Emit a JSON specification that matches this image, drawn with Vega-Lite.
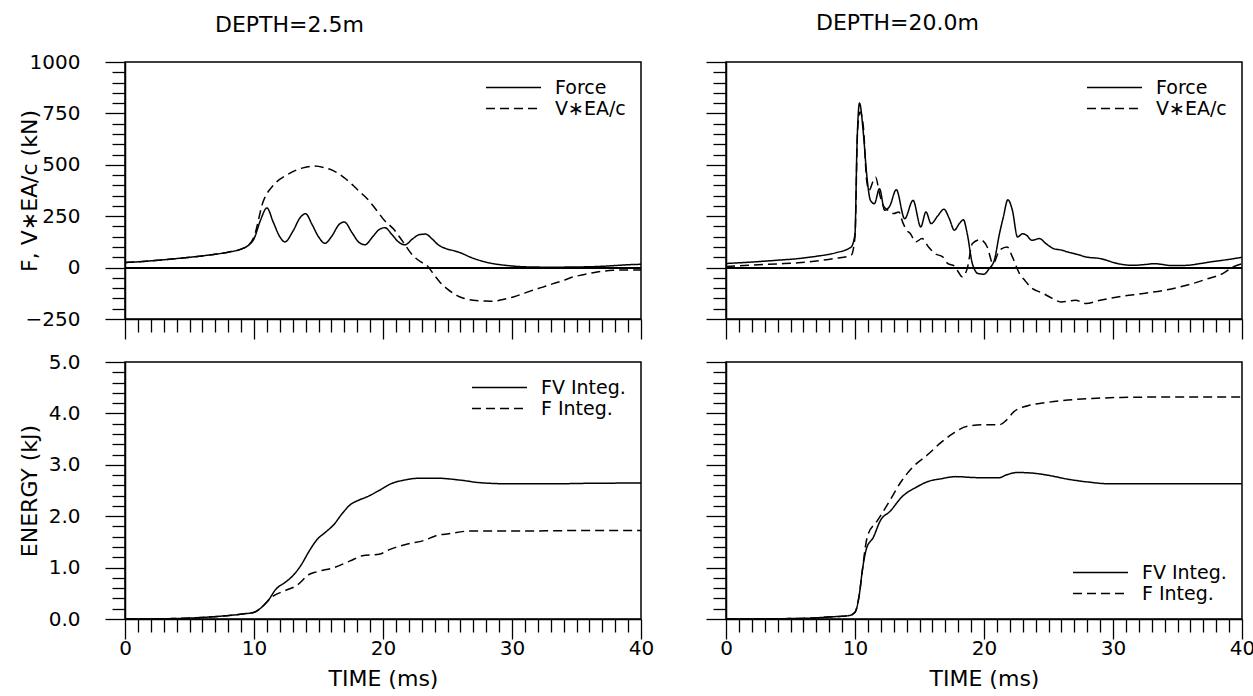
{
  "$schema": "https://vega.github.io/schema/vega-lite/v6.json",
  "padding": {"left": 17, "top": 11, "right": 2, "bottom": 5},
  "config": {
    "font": "DejaVu Sans",
    "view": {"stroke": "black", "strokeWidth": 1.5},
    "axis": {"grid": false, "domainColor": "black", "domainWidth": 1.5, "tickColor": "black", "tickWidth": 1.3, "labelColor": "black", "labelFont": "DejaVu Sans", "labelFontSize": 20, "titleFont": "DejaVu Sans", "titleFontSize": 22, "titleFontWeight": "normal", "titleColor": "black", "labelOverlap": false, "labelFlush": false},
    "legend": {"title": null, "labelFontSize": 19, "labelFont": "DejaVu Sans", "labelColor": "black", "symbolType": "stroke", "symbolSize": 3025, "symbolStrokeWidth": 1.5, "symbolStrokeColor": "black", "clipHeight": 21, "labelOffset": 13, "offset": 15, "padding": 0, "rowPadding": 0},
    "title": {"font": "DejaVu Sans", "fontSize": 22, "fontWeight": "normal", "color": "black", "anchor": "start", "frame": "group", "dx": 90}
  },
  "datasets": {
    "f25": [
      {"t":0,"v":25,"s":"Force"},{"t":1,"v":28,"s":"Force"},{"t":2,"v":33,"s":"Force"},{"t":3,"v":38,"s":"Force"},{"t":4,"v":44,"s":"Force"},{"t":5,"v":50,"s":"Force"},{"t":6,"v":57,"s":"Force"},{"t":7,"v":65,"s":"Force"},{"t":8,"v":75,"s":"Force"},{"t":9,"v":90,"s":"Force"},{"t":9.6,"v":110,"s":"Force"},{"t":10,"v":140,"s":"Force"},{"t":10.5,"v":230,"s":"Force"},{"t":11.0,"v":290,"s":"Force"},{"t":11.5,"v":220,"s":"Force"},{"t":12.0,"v":150,"s":"Force"},{"t":12.4,"v":125,"s":"Force"},{"t":13.0,"v":175,"s":"Force"},{"t":13.6,"v":245,"s":"Force"},{"t":14.0,"v":262,"s":"Force"},{"t":14.5,"v":210,"s":"Force"},{"t":15.0,"v":150,"s":"Force"},{"t":15.5,"v":118,"s":"Force"},{"t":16.0,"v":150,"s":"Force"},{"t":16.6,"v":210,"s":"Force"},{"t":17.0,"v":222,"s":"Force"},{"t":17.6,"v":170,"s":"Force"},{"t":18.1,"v":125,"s":"Force"},{"t":18.6,"v":111,"s":"Force"},{"t":19.2,"v":150,"s":"Force"},{"t":19.7,"v":185,"s":"Force"},{"t":20.15,"v":194,"s":"Force"},{"t":20.7,"v":160,"s":"Force"},{"t":21.2,"v":125,"s":"Force"},{"t":21.7,"v":111,"s":"Force"},{"t":22.3,"v":140,"s":"Force"},{"t":22.8,"v":160,"s":"Force"},{"t":23.3,"v":163,"s":"Force"},{"t":23.8,"v":140,"s":"Force"},{"t":24.3,"v":110,"s":"Force"},{"t":24.9,"v":92,"s":"Force"},{"t":25.5,"v":82,"s":"Force"},{"t":26,"v":72,"s":"Force"},{"t":26.8,"v":50,"s":"Force"},{"t":27.5,"v":35,"s":"Force"},{"t":28.3,"v":22,"s":"Force"},{"t":29.1,"v":14,"s":"Force"},{"t":30,"v":8,"s":"Force"},{"t":30.6,"v":5,"s":"Force"},{"t":31.5,"v":3,"s":"Force"},{"t":33,"v":2,"s":"Force"},{"t":35,"v":3,"s":"Force"},{"t":36.5,"v":5,"s":"Force"},{"t":38,"v":10,"s":"Force"},{"t":39,"v":14,"s":"Force"},{"t":40,"v":16,"s":"Force"},
      {"t":0,"v":25,"s":"V∗EA/c"},{"t":1,"v":28,"s":"V∗EA/c"},{"t":2,"v":33,"s":"V∗EA/c"},{"t":3,"v":38,"s":"V∗EA/c"},{"t":4,"v":44,"s":"V∗EA/c"},{"t":5,"v":50,"s":"V∗EA/c"},{"t":6,"v":57,"s":"V∗EA/c"},{"t":7,"v":65,"s":"V∗EA/c"},{"t":8,"v":75,"s":"V∗EA/c"},{"t":9,"v":90,"s":"V∗EA/c"},{"t":9.6,"v":110,"s":"V∗EA/c"},{"t":10,"v":150,"s":"V∗EA/c"},{"t":10.7,"v":319,"s":"V∗EA/c"},{"t":11.5,"v":400,"s":"V∗EA/c"},{"t":12.5,"v":449,"s":"V∗EA/c"},{"t":13.3,"v":475,"s":"V∗EA/c"},{"t":13.8,"v":485,"s":"V∗EA/c"},{"t":14.7,"v":494,"s":"V∗EA/c"},{"t":15.5,"v":485,"s":"V∗EA/c"},{"t":16.1,"v":473,"s":"V∗EA/c"},{"t":16.6,"v":455,"s":"V∗EA/c"},{"t":17.1,"v":432,"s":"V∗EA/c"},{"t":17.6,"v":405,"s":"V∗EA/c"},{"t":18.2,"v":368,"s":"V∗EA/c"},{"t":18.7,"v":340,"s":"V∗EA/c"},{"t":19.5,"v":279,"s":"V∗EA/c"},{"t":20.1,"v":230,"s":"V∗EA/c"},{"t":20.8,"v":189,"s":"V∗EA/c"},{"t":21.5,"v":130,"s":"V∗EA/c"},{"t":22.3,"v":60,"s":"V∗EA/c"},{"t":23.0,"v":25,"s":"V∗EA/c"},{"t":23.4,"v":11,"s":"V∗EA/c"},{"t":23.9,"v":-30,"s":"V∗EA/c"},{"t":24.4,"v":-70,"s":"V∗EA/c"},{"t":25,"v":-105,"s":"V∗EA/c"},{"t":25.7,"v":-135,"s":"V∗EA/c"},{"t":26.3,"v":-150,"s":"V∗EA/c"},{"t":27.0,"v":-159,"s":"V∗EA/c"},{"t":27.8,"v":-162,"s":"V∗EA/c"},{"t":28.5,"v":-164,"s":"V∗EA/c"},{"t":29.3,"v":-155,"s":"V∗EA/c"},{"t":30.1,"v":-143,"s":"V∗EA/c"},{"t":30.8,"v":-128,"s":"V∗EA/c"},{"t":31.6,"v":-110,"s":"V∗EA/c"},{"t":32.4,"v":-95,"s":"V∗EA/c"},{"t":33.2,"v":-78,"s":"V∗EA/c"},{"t":34,"v":-62,"s":"V∗EA/c"},{"t":34.7,"v":-46,"s":"V∗EA/c"},{"t":35.5,"v":-35,"s":"V∗EA/c"},{"t":36.3,"v":-25,"s":"V∗EA/c"},{"t":37,"v":-18,"s":"V∗EA/c"},{"t":37.8,"v":-13,"s":"V∗EA/c"},{"t":38.8,"v":-12,"s":"V∗EA/c"},{"t":40,"v":-12,"s":"V∗EA/c"}
    ],
    "f20": [
      {"t":0,"v":20,"s":"Force"},{"t":2,"v":27,"s":"Force"},{"t":4,"v":36,"s":"Force"},{"t":5.6,"v":44,"s":"Force"},{"t":7,"v":55,"s":"Force"},{"t":8.5,"v":72,"s":"Force"},{"t":9.7,"v":100,"s":"Force"},{"t":10.0,"v":165,"s":"Force"},{"t":10.15,"v":587,"s":"Force"},{"t":10.35,"v":800,"s":"Force"},{"t":10.65,"v":652,"s":"Force"},{"t":10.9,"v":457,"s":"Force"},{"t":11.2,"v":327,"s":"Force"},{"t":11.5,"v":311,"s":"Force"},{"t":11.9,"v":384,"s":"Force"},{"t":12.3,"v":279,"s":"Force"},{"t":12.7,"v":300,"s":"Force"},{"t":13.2,"v":379,"s":"Force"},{"t":13.85,"v":238,"s":"Force"},{"t":14.5,"v":327,"s":"Force"},{"t":15.1,"v":198,"s":"Force"},{"t":15.5,"v":271,"s":"Force"},{"t":15.9,"v":214,"s":"Force"},{"t":16.4,"v":250,"s":"Force"},{"t":16.9,"v":284,"s":"Force"},{"t":17.3,"v":240,"s":"Force"},{"t":17.7,"v":182,"s":"Force"},{"t":18.1,"v":215,"s":"Force"},{"t":18.4,"v":233,"s":"Force"},{"t":18.7,"v":165,"s":"Force"},{"t":19.1,"v":19,"s":"Force"},{"t":19.55,"v":-29,"s":"Force"},{"t":20.0,"v":-32,"s":"Force"},{"t":20.4,"v":-5,"s":"Force"},{"t":20.8,"v":36,"s":"Force"},{"t":21.2,"v":165,"s":"Force"},{"t":21.5,"v":246,"s":"Force"},{"t":21.85,"v":330,"s":"Force"},{"t":22.2,"v":279,"s":"Force"},{"t":22.6,"v":149,"s":"Force"},{"t":23.0,"v":165,"s":"Force"},{"t":23.3,"v":157,"s":"Force"},{"t":23.7,"v":133,"s":"Force"},{"t":24.3,"v":141,"s":"Force"},{"t":24.8,"v":117,"s":"Force"},{"t":25.4,"v":92,"s":"Force"},{"t":26.0,"v":85,"s":"Force"},{"t":26.5,"v":76,"s":"Force"},{"t":27.3,"v":63,"s":"Force"},{"t":27.9,"v":52,"s":"Force"},{"t":29.0,"v":44,"s":"Force"},{"t":30.4,"v":19,"s":"Force"},{"t":31.5,"v":11,"s":"Force"},{"t":32.5,"v":15,"s":"Force"},{"t":33.2,"v":19,"s":"Force"},{"t":34.6,"v":10,"s":"Force"},{"t":35.7,"v":11,"s":"Force"},{"t":36.8,"v":20,"s":"Force"},{"t":37.6,"v":28,"s":"Force"},{"t":39,"v":40,"s":"Force"},{"t":40,"v":50,"s":"Force"},
      {"t":0,"v":5,"s":"V∗EA/c"},{"t":2,"v":12,"s":"V∗EA/c"},{"t":4,"v":18,"s":"V∗EA/c"},{"t":5.6,"v":23,"s":"V∗EA/c"},{"t":7,"v":32,"s":"V∗EA/c"},{"t":8.5,"v":45,"s":"V∗EA/c"},{"t":9.7,"v":60,"s":"V∗EA/c"},{"t":10.0,"v":149,"s":"V∗EA/c"},{"t":10.2,"v":668,"s":"V∗EA/c"},{"t":10.4,"v":757,"s":"V∗EA/c"},{"t":10.65,"v":684,"s":"V∗EA/c"},{"t":10.9,"v":425,"s":"V∗EA/c"},{"t":11.1,"v":376,"s":"V∗EA/c"},{"t":11.4,"v":420,"s":"V∗EA/c"},{"t":11.6,"v":440,"s":"V∗EA/c"},{"t":11.9,"v":360,"s":"V∗EA/c"},{"t":12.2,"v":300,"s":"V∗EA/c"},{"t":12.55,"v":279,"s":"V∗EA/c"},{"t":13.0,"v":263,"s":"V∗EA/c"},{"t":13.4,"v":271,"s":"V∗EA/c"},{"t":13.7,"v":220,"s":"V∗EA/c"},{"t":14.0,"v":182,"s":"V∗EA/c"},{"t":14.3,"v":165,"s":"V∗EA/c"},{"t":14.7,"v":125,"s":"V∗EA/c"},{"t":15.2,"v":141,"s":"V∗EA/c"},{"t":15.7,"v":100,"s":"V∗EA/c"},{"t":16.2,"v":68,"s":"V∗EA/c"},{"t":16.8,"v":52,"s":"V∗EA/c"},{"t":17.2,"v":19,"s":"V∗EA/c"},{"t":17.7,"v":8,"s":"V∗EA/c"},{"t":18.0,"v":-20,"s":"V∗EA/c"},{"t":18.3,"v":-45,"s":"V∗EA/c"},{"t":18.7,"v":-5,"s":"V∗EA/c"},{"t":19.1,"v":117,"s":"V∗EA/c"},{"t":19.7,"v":136,"s":"V∗EA/c"},{"t":20.25,"v":100,"s":"V∗EA/c"},{"t":20.7,"v":19,"s":"V∗EA/c"},{"t":21.2,"v":84,"s":"V∗EA/c"},{"t":21.8,"v":100,"s":"V∗EA/c"},{"t":22.2,"v":52,"s":"V∗EA/c"},{"t":22.75,"v":-29,"s":"V∗EA/c"},{"t":23.2,"v":-65,"s":"V∗EA/c"},{"t":23.6,"v":-94,"s":"V∗EA/c"},{"t":24.6,"v":-126,"s":"V∗EA/c"},{"t":25.3,"v":-150,"s":"V∗EA/c"},{"t":25.95,"v":-167,"s":"V∗EA/c"},{"t":27.1,"v":-159,"s":"V∗EA/c"},{"t":27.9,"v":-175,"s":"V∗EA/c"},{"t":29.0,"v":-159,"s":"V∗EA/c"},{"t":30.7,"v":-139,"s":"V∗EA/c"},{"t":32.35,"v":-126,"s":"V∗EA/c"},{"t":34.0,"v":-110,"s":"V∗EA/c"},{"t":35.7,"v":-86,"s":"V∗EA/c"},{"t":37.4,"v":-53,"s":"V∗EA/c"},{"t":38.5,"v":-29,"s":"V∗EA/c"},{"t":39.3,"v":3,"s":"V∗EA/c"},{"t":40,"v":19,"s":"V∗EA/c"}
    ],
    "e25": [
      {"t":0,"v":0,"s":"FV Integ."},{"t":3,"v":0.005,"s":"FV Integ."},{"t":6,"v":0.03,"s":"FV Integ."},{"t":7.9,"v":0.065,"s":"FV Integ."},{"t":9.2,"v":0.1,"s":"FV Integ."},{"t":10,"v":0.13,"s":"FV Integ."},{"t":10.6,"v":0.23,"s":"FV Integ."},{"t":11.1,"v":0.36,"s":"FV Integ."},{"t":11.7,"v":0.58,"s":"FV Integ."},{"t":12.4,"v":0.71,"s":"FV Integ."},{"t":13.0,"v":0.84,"s":"FV Integ."},{"t":13.6,"v":1.03,"s":"FV Integ."},{"t":14.3,"v":1.33,"s":"FV Integ."},{"t":14.9,"v":1.55,"s":"FV Integ."},{"t":15.5,"v":1.68,"s":"FV Integ."},{"t":16.2,"v":1.84,"s":"FV Integ."},{"t":16.8,"v":2.04,"s":"FV Integ."},{"t":17.45,"v":2.22,"s":"FV Integ."},{"t":18.1,"v":2.31,"s":"FV Integ."},{"t":18.7,"v":2.37,"s":"FV Integ."},{"t":19.7,"v":2.5,"s":"FV Integ."},{"t":20.6,"v":2.63,"s":"FV Integ."},{"t":21.6,"v":2.7,"s":"FV Integ."},{"t":22.9,"v":2.74,"s":"FV Integ."},{"t":24.1,"v":2.74,"s":"FV Integ."},{"t":26.05,"v":2.7,"s":"FV Integ."},{"t":27.6,"v":2.65,"s":"FV Integ."},{"t":29.9,"v":2.63,"s":"FV Integ."},{"t":33.1,"v":2.63,"s":"FV Integ."},{"t":36,"v":2.64,"s":"FV Integ."},{"t":40,"v":2.645,"s":"FV Integ."},
      {"t":0,"v":0,"s":"F Integ."},{"t":3,"v":0.005,"s":"F Integ."},{"t":6,"v":0.03,"s":"F Integ."},{"t":7.9,"v":0.065,"s":"F Integ."},{"t":9.2,"v":0.1,"s":"F Integ."},{"t":10,"v":0.13,"s":"F Integ."},{"t":10.6,"v":0.23,"s":"F Integ."},{"t":11.1,"v":0.36,"s":"F Integ."},{"t":11.4,"v":0.43,"s":"F Integ."},{"t":12.4,"v":0.55,"s":"F Integ."},{"t":13.3,"v":0.65,"s":"F Integ."},{"t":14.3,"v":0.87,"s":"F Integ."},{"t":14.9,"v":0.92,"s":"F Integ."},{"t":16.2,"v":1.0,"s":"F Integ."},{"t":17.45,"v":1.13,"s":"F Integ."},{"t":18.4,"v":1.23,"s":"F Integ."},{"t":19.7,"v":1.26,"s":"F Integ."},{"t":20.6,"v":1.36,"s":"F Integ."},{"t":21.9,"v":1.46,"s":"F Integ."},{"t":23.2,"v":1.53,"s":"F Integ."},{"t":24.1,"v":1.62,"s":"F Integ."},{"t":25.1,"v":1.66,"s":"F Integ."},{"t":26.7,"v":1.71,"s":"F Integ."},{"t":29.9,"v":1.71,"s":"F Integ."},{"t":35,"v":1.72,"s":"F Integ."},{"t":40,"v":1.72,"s":"F Integ."}
    ],
    "e20": [
      {"t":0,"v":0,"s":"FV Integ."},{"t":5.6,"v":0.01,"s":"FV Integ."},{"t":8.4,"v":0.045,"s":"FV Integ."},{"t":9.5,"v":0.065,"s":"FV Integ."},{"t":10.0,"v":0.13,"s":"FV Integ."},{"t":10.3,"v":0.42,"s":"FV Integ."},{"t":10.6,"v":1.0,"s":"FV Integ."},{"t":10.9,"v":1.38,"s":"FV Integ."},{"t":11.4,"v":1.58,"s":"FV Integ."},{"t":12.0,"v":1.93,"s":"FV Integ."},{"t":12.7,"v":2.09,"s":"FV Integ."},{"t":13.65,"v":2.38,"s":"FV Integ."},{"t":14.8,"v":2.57,"s":"FV Integ."},{"t":15.6,"v":2.67,"s":"FV Integ."},{"t":16.7,"v":2.73,"s":"FV Integ."},{"t":17.8,"v":2.77,"s":"FV Integ."},{"t":19.5,"v":2.75,"s":"FV Integ."},{"t":21.2,"v":2.75,"s":"FV Integ."},{"t":21.7,"v":2.8,"s":"FV Integ."},{"t":22.6,"v":2.85,"s":"FV Integ."},{"t":23.7,"v":2.84,"s":"FV Integ."},{"t":25.1,"v":2.79,"s":"FV Integ."},{"t":26.5,"v":2.72,"s":"FV Integ."},{"t":27.9,"v":2.67,"s":"FV Integ."},{"t":29.8,"v":2.63,"s":"FV Integ."},{"t":35,"v":2.63,"s":"FV Integ."},{"t":40,"v":2.63,"s":"FV Integ."},
      {"t":0,"v":0,"s":"F Integ."},{"t":5.6,"v":0.01,"s":"F Integ."},{"t":8.4,"v":0.045,"s":"F Integ."},{"t":9.5,"v":0.065,"s":"F Integ."},{"t":10.0,"v":0.13,"s":"F Integ."},{"t":10.3,"v":0.42,"s":"F Integ."},{"t":10.6,"v":1.0,"s":"F Integ."},{"t":10.8,"v":1.4,"s":"F Integ."},{"t":11.0,"v":1.64,"s":"F Integ."},{"t":11.7,"v":1.9,"s":"F Integ."},{"t":12.5,"v":2.22,"s":"F Integ."},{"t":13.65,"v":2.7,"s":"F Integ."},{"t":14.5,"v":2.96,"s":"F Integ."},{"t":15.6,"v":3.19,"s":"F Integ."},{"t":16.7,"v":3.44,"s":"F Integ."},{"t":17.55,"v":3.6,"s":"F Integ."},{"t":18.7,"v":3.75,"s":"F Integ."},{"t":20.1,"v":3.78,"s":"F Integ."},{"t":21.2,"v":3.78,"s":"F Integ."},{"t":21.7,"v":3.86,"s":"F Integ."},{"t":22.3,"v":4.03,"s":"F Integ."},{"t":23.4,"v":4.15,"s":"F Integ."},{"t":24.8,"v":4.21,"s":"F Integ."},{"t":26.5,"v":4.26,"s":"F Integ."},{"t":28.4,"v":4.29,"s":"F Integ."},{"t":30.6,"v":4.31,"s":"F Integ."},{"t":35,"v":4.32,"s":"F Integ."},{"t":40,"v":4.32,"s":"F Integ."}
    ]
  },
  "columns": 2,
  "bounds": "flush",
  "spacing": {"row": 43, "column": 85},
  "resolve": {"scale": {"x": "independent", "y": "independent", "strokeDash": "independent"}, "legend": {"strokeDash": "independent"}},
  "concat": [
    {
      "title": {"text": "DEPTH=2.5m", "offset": 15},
      "width": 516, "height": 257,
      "data": {"name": "f25"},
      "layer": [
        {"mark": {"type": "line", "color": "black", "strokeWidth": 1.5, "interpolate": "monotone"},
         "encoding": {
           "x": {"field": "t", "type": "quantitative", "scale": {"domain": [0, 40], "nice": false, "zero": false},
                 "axis": {"values": [0,1,2,3,4,5,6,7,8,9,10,11,12,13,14,15,16,17,18,19,20,21,22,23,24,25,26,27,28,29,30,31,32,33,34,35,36,37,38,39,40], "labels": false, "title": null,
                          "tickSize": {"condition": {"test": "datum.value % 10 === 0", "value": 20}, "value": 13}}},
           "y": {"field": "v", "type": "quantitative", "scale": {"domain": [-250, 1000], "nice": false, "zero": false},
                 "axis": {"values": [-250,-200,-150,-100,-50,0,50,100,150,200,250,300,350,400,450,500,550,600,650,700,750,800,850,900,950,1000],
                          "labelExpr": "datum.value % 250 === 0 ? format(datum.value, 'd') : ''", "labelOverlap": false,
                          "tickSize": {"condition": {"test": "datum.value % 250 === 0", "value": 20}, "value": 13},
                          "labelPadding": 25, "title": "F,  V∗EA/c  (kN)", "titlePadding": 12, "minExtent": 72, "maxExtent": 72}},
           "strokeDash": {"field": "s", "type": "nominal", "scale": {"domain": ["Force", "V∗EA/c"], "range": [[1, 0], [9, 5]]},
                          "legend": {"orient": "top-right"}}
         }},
        {"mark": {"type": "rule", "color": "black", "strokeWidth": 1.2},
         "encoding": {"y": {"datum": 0, "type": "quantitative",
                 "axis": {"values": [-250,-200,-150,-100,-50,0,50,100,150,200,250,300,350,400,450,500,550,600,650,700,750,800,850,900,950,1000],
                          "labelExpr": "datum.value % 250 === 0 ? format(datum.value, 'd') : ''", "labelOverlap": false,
                          "tickSize": {"condition": {"test": "datum.value % 250 === 0", "value": 20}, "value": 13},
                          "labelPadding": 25, "title": "F,  V∗EA/c  (kN)", "titlePadding": 12, "minExtent": 72, "maxExtent": 72}}}}
      ]
    },
    {
      "title": {"text": "DEPTH=20.0m", "offset": 26},
      "width": 516, "height": 257,
      "data": {"name": "f20"},
      "layer": [
        {"mark": {"type": "line", "color": "black", "strokeWidth": 1.5, "interpolate": "monotone"},
         "encoding": {
           "x": {"field": "t", "type": "quantitative", "scale": {"domain": [0, 40], "nice": false, "zero": false},
                 "axis": {"values": [0,1,2,3,4,5,6,7,8,9,10,11,12,13,14,15,16,17,18,19,20,21,22,23,24,25,26,27,28,29,30,31,32,33,34,35,36,37,38,39,40], "labels": false, "title": null,
                          "tickSize": {"condition": {"test": "datum.value % 10 === 0", "value": 20}, "value": 13}}},
           "y": {"field": "v", "type": "quantitative", "scale": {"domain": [-250, 1000], "nice": false, "zero": false},
                 "axis": {"values": [-250,-200,-150,-100,-50,0,50,100,150,200,250,300,350,400,450,500,550,600,650,700,750,800,850,900,950,1000],
                          "labels": false, "title": null,
                          "tickSize": {"condition": {"test": "datum.value % 250 === 0", "value": 20}, "value": 13}}},
           "strokeDash": {"field": "s", "type": "nominal", "scale": {"domain": ["Force", "V∗EA/c"], "range": [[1, 0], [9, 5]]},
                          "legend": {"orient": "top-right"}}
         }},
        {"mark": {"type": "rule", "color": "black", "strokeWidth": 1.2},
         "encoding": {"y": {"datum": 0, "type": "quantitative",
                 "axis": {"values": [-250,-200,-150,-100,-50,0,50,100,150,200,250,300,350,400,450,500,550,600,650,700,750,800,850,900,950,1000],
                          "labels": false, "title": null,
                          "tickSize": {"condition": {"test": "datum.value % 250 === 0", "value": 20}, "value": 13}}}}}
      ]
    },
    {
      "width": 516, "height": 257,
      "data": {"name": "e25"},
      "mark": {"type": "line", "color": "black", "strokeWidth": 1.5, "interpolate": "monotone"},
      "encoding": {
        "x": {"field": "t", "type": "quantitative", "scale": {"domain": [0, 40], "nice": false, "zero": false},
              "axis": {"values": [0,1,2,3,4,5,6,7,8,9,10,11,12,13,14,15,16,17,18,19,20,21,22,23,24,25,26,27,28,29,30,31,32,33,34,35,36,37,38,39,40],
                       "labelExpr": "datum.value % 10 === 0 ? datum.label : ''", "labelPadding": -1, "labelOverlap": false,
                       "title": "TIME  (ms)", "titlePadding": 10,
                       "tickSize": {"condition": {"test": "datum.value % 10 === 0", "value": 20}, "value": 13}}},
        "y": {"field": "v", "type": "quantitative", "scale": {"domain": [0, 5], "nice": false, "zero": false},
              "axis": {"values": [0,0.2,0.4,0.6,0.8,1,1.2,1.4,1.6,1.8,2,2.2,2.4,2.6,2.8,3,3.2,3.4,3.6,3.8,4,4.2,4.4,4.6,4.8,5],
                       "labelExpr": "abs(datum.value - round(datum.value)) < 0.001 ? format(datum.value, '.1f') : ''", "labelOverlap": false,
                       "tickSize": {"condition": {"test": "abs(datum.value - round(datum.value)) < 0.001", "value": 20}, "value": 13},
                       "labelPadding": 25, "title": "ENERGY  (kJ)", "titlePadding": 12, "minExtent": 72, "maxExtent": 72}},
        "strokeDash": {"field": "s", "type": "nominal", "scale": {"domain": ["FV Integ.", "F Integ."], "range": [[1, 0], [9, 5]]},
                       "legend": {"orient": "top-right"}}
      }
    },
    {
      "width": 516, "height": 257,
      "data": {"name": "e20"},
      "mark": {"type": "line", "color": "black", "strokeWidth": 1.5, "interpolate": "monotone"},
      "encoding": {
        "x": {"field": "t", "type": "quantitative", "scale": {"domain": [0, 40], "nice": false, "zero": false},
              "axis": {"values": [0,1,2,3,4,5,6,7,8,9,10,11,12,13,14,15,16,17,18,19,20,21,22,23,24,25,26,27,28,29,30,31,32,33,34,35,36,37,38,39,40],
                       "labelExpr": "datum.value % 10 === 0 ? datum.label : ''", "labelPadding": -1, "labelOverlap": false,
                       "title": "TIME  (ms)", "titlePadding": 10,
                       "tickSize": {"condition": {"test": "datum.value % 10 === 0", "value": 20}, "value": 13}}},
        "y": {"field": "v", "type": "quantitative", "scale": {"domain": [0, 5], "nice": false, "zero": false},
              "axis": {"values": [0,0.2,0.4,0.6,0.8,1,1.2,1.4,1.6,1.8,2,2.2,2.4,2.6,2.8,3,3.2,3.4,3.6,3.8,4,4.2,4.4,4.6,4.8,5],
                       "labels": false, "title": null,
                       "tickSize": {"condition": {"test": "abs(datum.value - round(datum.value)) < 0.001", "value": 20}, "value": 13}}},
        "strokeDash": {"field": "s", "type": "nominal", "scale": {"domain": ["FV Integ.", "F Integ."], "range": [[1, 0], [9, 5]]},
                       "legend": {"orient": "bottom-right"}}
      }
    }
  ]
}
